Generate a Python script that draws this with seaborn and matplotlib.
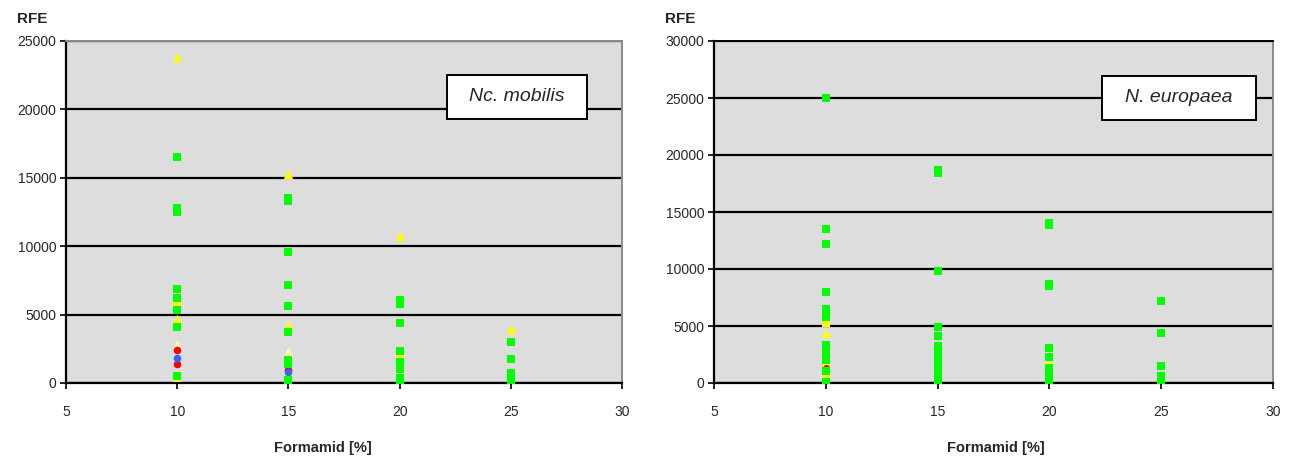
import matplotlib
matplotlib.use("Agg")
import matplotlib.pyplot as plt
from matplotlib.patches import Rectangle
import seaborn as sns
import pandas as pd

sns.set_theme(style="white")
plt.rcParams["font.family"] = ["Liberation Sans", "DejaVu Sans"]

# ---- Nc. mobilis: RFE by formamide concentration ----
mob_green_x = [10, 10, 10, 10, 10, 10, 10, 10,
               15, 15, 15, 15, 15, 15, 15, 15, 15,
               20, 20, 20, 20, 20, 20, 20, 20,
               25, 25, 25, 25, 25]
mob_green_y = [16500, 12800, 12500, 6900, 6250, 5300, 4100, 500,
               13500, 13300, 9600, 7200, 5650, 3700, 1700, 1400, 200,
               6100, 5800, 4400, 2350, 1500, 1000, 350, 50,
               3000, 1750, 750, 350, 50]
mob_tri_x = [10, 10, 10, 10, 15, 15, 15, 20, 20, 25]
mob_tri_y = [23800, 6400, 4650, 600, 15300, 4250, 700, 10750, 1800, 3950]
mob_ysq_x = [10, 10, 20, 20, 25, 15]
mob_ysq_y = [5700, 400, 2050, 0, 0, 0]
mob_pale_x = [10, 15]
mob_pale_y = [2850, 2250]
mob_palesq_x = [20]
mob_palesq_y = [600]
mob_red_x = [10, 10, 15]
mob_red_y = [2400, 1400, 950]
mob_blue_x = [10, 15]
mob_blue_y = [1800, 800]

# ---- N. europaea ----
eur_green_x = [10] * 12 + [15] * 12 + [20] * 10 + [25] * 6
eur_green_y = [25000, 13500, 12200, 7950, 6450, 5750, 3350, 2900, 2450, 2000, 1050, 50,
               18700, 18400, 9850, 4950, 4150, 3250, 2750, 2300, 1850, 1450, 1000, 250,
               14000, 13900, 8700, 8550, 3100, 2250, 1350, 600, 300, 50,
               7200, 4350, 1500, 650, 250, 0]
eur_tri_x = [10]
eur_tri_y = [4400]
eur_ysq_x = [10, 10, 10, 15, 15, 15, 20, 25]
eur_ysq_y = [5300, 1600, 650, 3200, 1700, 100, 1450, 250]
eur_red_x = [10]
eur_red_y = [1350]

x_ticks = [5, 10, 15, 20, 25, 30]

GREEN = "#00FF00"
YELLOW = "#FFFF00"
PALE = "#FFFFA8"
RED = "#FF0000"
BLUE = "#3366FF"


def layer(ax, xs, ys, color, marker, size, z):
    df = pd.DataFrame({"x": xs, "y": ys})
    sns.scatterplot(data=df, x="x", y="y", ax=ax, color=color, marker=marker,
                    s=size, linewidth=0, zorder=z, legend=False)


def style_axes(ax, ymax, ystep, label, box, xlabel_x):
    ax.set_facecolor("#DDDDDD")
    ax.set_xlim(5, 30)
    ax.set_ylim(0, ymax)
    ax.set_xticks(x_ticks)
    ax.set_yticks(range(0, ymax + 1, ystep))
    ax.set_xlabel("Formamid [%]", fontsize=10.5, fontweight="bold")
    ax.xaxis.set_label_coords(xlabel_x, -0.17)
    ax.set_ylabel("")
    ax.yaxis.grid(True, color="black", linewidth=1.6, zorder=1)
    ax.xaxis.grid(False)
    ax.set_axisbelow(True)
    for side in ("left", "bottom"):
        ax.spines[side].set_color("black")
        ax.spines[side].set_linewidth(1.6)
    for side in ("top", "right"):
        ax.spines[side].set_color("#8A8A8A")
        ax.spines[side].set_linewidth(1.4)
    ax.tick_params(axis="both", which="major", length=4, width=1.2,
                   color="black", labelsize=10, direction="out",
                   bottom=True, left=True, pad=3)
    ax.tick_params(axis="x", pad=12)
    ax.text(-0.088, 1.045, "RFE", transform=ax.transAxes, fontsize=11,
            fontweight="bold", ha="left", va="bottom")
    x0, y0, x1, y1 = box
    ax.add_patch(Rectangle((x0, y0), x1 - x0, y1 - y0, transform=ax.transAxes,
                           facecolor="white", edgecolor="black",
                           linewidth=1.4, zorder=9))
    ax.text((x0 + x1) / 2, (y0 + y1) / 2, label, transform=ax.transAxes,
            fontsize=14, style="italic", ha="center", va="center", zorder=10)


fig = plt.figure(figsize=(12.89, 4.57), dpi=100)
ax1 = fig.add_axes([66 / 1289, 1 - 383 / 457, 556 / 1289, 342 / 457])
ax2 = fig.add_axes([714 / 1289, 1 - 383 / 457, 559 / 1289, 342 / 457])

layer(ax1, mob_ysq_x, mob_ysq_y, YELLOW, "s", 40, 3)
layer(ax1, mob_palesq_x, mob_palesq_y, PALE, "s", 40, 3)
layer(ax1, mob_tri_x, mob_tri_y, YELLOW, "^", 48, 4)
layer(ax1, mob_pale_x, mob_pale_y, PALE, "^", 48, 4)
layer(ax1, mob_red_x, mob_red_y, RED, "o", 30, 5)
layer(ax1, mob_blue_x, mob_blue_y, BLUE, "o", 30, 5)
layer(ax1, mob_green_x, mob_green_y, GREEN, "s", 26, 6)
style_axes(ax1, 25000, 5000, "Nc. mobilis", (0.685, 0.772, 0.937, 0.901), 0.462)

layer(ax2, eur_ysq_x, eur_ysq_y, YELLOW, "s", 32, 3)
layer(ax2, eur_tri_x, eur_tri_y, YELLOW, "^", 42, 4)
layer(ax2, eur_red_x, eur_red_y, RED, "o", 26, 5)
layer(ax2, eur_green_x, eur_green_y, GREEN, "s", 27, 6)
style_axes(ax2, 30000, 5000, "N. europaea", (0.694, 0.769, 0.970, 0.898), 0.505)
ax2.spines["top"].set_color("black")

fig.savefig("out.png", dpi=100, facecolor="white")
